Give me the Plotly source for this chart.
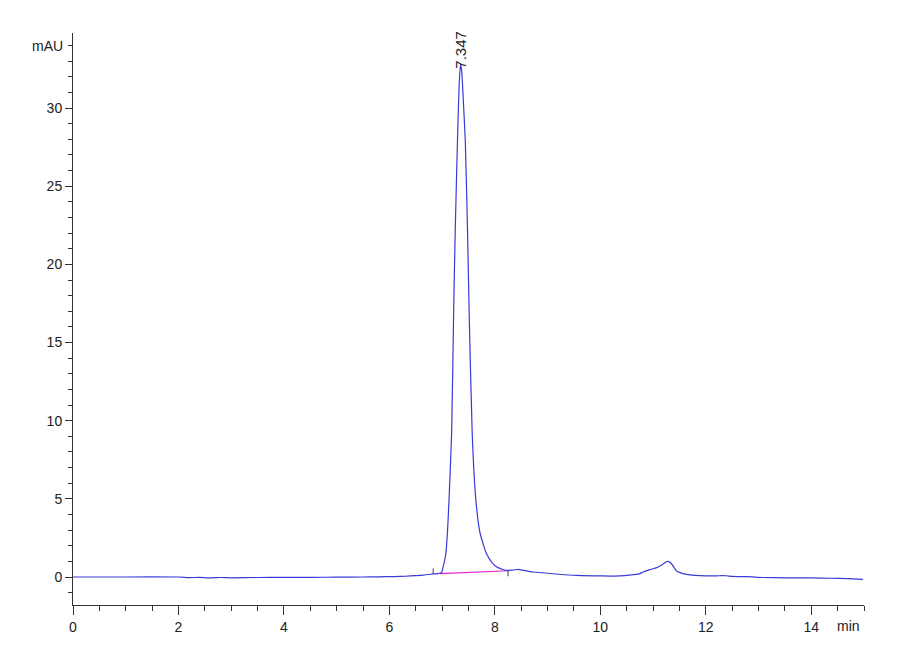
import plotly.graph_objects as go

# Chromatogram signal (min, mAU)
times = [0, 1, 2, 2.2, 2.4, 2.6, 2.8, 3.0, 3.5, 4, 4.5, 5, 5.5, 5.8, 6.1, 6.3, 6.5,
         6.64, 6.75, 6.83, 6.92, 6.99, 7.02, 7.07, 7.10, 7.13, 7.18, 7.22, 7.25, 7.29,
         7.32, 7.347, 7.37, 7.40, 7.44, 7.48, 7.51, 7.57, 7.64, 7.72, 7.84, 7.95, 8.03,
         8.15, 8.25, 8.35, 8.44, 8.55, 8.72, 9.10, 9.55, 10.0, 10.24, 10.5, 10.62, 10.75,
         10.81, 10.94, 11.07, 11.18, 11.25, 11.29, 11.35, 11.44, 11.5, 11.63, 11.89,
         12.2, 12.3, 12.39, 12.5, 12.8, 13.08, 13.5, 14.0, 14.35, 14.7, 14.98]
signal = [0, 0, 0, -0.04, -0.02, -0.06, -0.03, -0.05, -0.03, -0.02, -0.02, -0.01, 0, 0.01,
          0.03, 0.05, 0.09, 0.12, 0.16, 0.2, 0.22, 0.3, 0.65, 1.5, 2.8, 4.9, 9.2, 17.3, 22.4,
          27.8, 31.2, 32.8, 32.4, 30.6, 27.8, 22.4, 17.3, 9.2, 4.9, 2.8, 1.5, 0.9, 0.65,
          0.48, 0.42, 0.45, 0.49, 0.42, 0.32, 0.21, 0.1, 0.07, 0.06, 0.1, 0.15, 0.22,
          0.32, 0.47, 0.6, 0.8, 0.98, 1.0, 0.85, 0.4, 0.3, 0.17, 0.09,
          0.07, 0.09, 0.08, 0.04, 0.02, -0.03, -0.05, -0.06, -0.08, -0.1, -0.15]

# Integration baseline of the main peak
base_t = [6.96, 8.25]
base_v = [0.22, 0.40]
# Integration start / end markers
start_tick_t = [6.83, 6.83]
start_tick_v = [0.2, 0.55]
end_tick_t = [8.25, 8.25]
end_tick_v = [0.40, 0.05]

peak_rt = 7.347
peak_h = 32.8
peak_label = "7.347"

x_ticks = [0, 2, 4, 6, 8, 10, 12, 14]
y_ticks = [0, 5, 10, 15, 20, 25, 30]

fig = go.Figure()
fig.add_trace(go.Scatter(x=base_t, y=base_v, mode="lines",
                         line=dict(color="#e020d0", width=1.2), hoverinfo="skip"))
fig.add_trace(go.Scatter(x=times, y=signal, mode="lines",
                         line=dict(color="#3a3ad8", width=1.2, shape="spline",
                                   smoothing=0.5)))
fig.add_trace(go.Scatter(x=start_tick_t, y=start_tick_v, mode="lines",
                         line=dict(color="#444444", width=1)))
fig.add_trace(go.Scatter(x=end_tick_t, y=end_tick_v, mode="lines",
                         line=dict(color="#444444", width=1)))

fam = "Liberation Sans Narrow, Arial Narrow, Liberation Sans, sans-serif"
font = dict(family=fam, size=14, color="#222222")

fig.update_layout(
    width=900, height=660,
    margin=dict(l=65, r=44, t=25, b=63),
    plot_bgcolor="white", paper_bgcolor="white",
    showlegend=False,
    font=font,
    xaxis=dict(range=[0, 15], tickvals=x_ticks, ticks="outside", ticklen=9,
               tickcolor="#333333", showline=True, linecolor="#333333", linewidth=1,
               showgrid=False, zeroline=False, automargin=False,
               minor=dict(dtick=0.5, tick0=0, ticks="outside", ticklen=5,
                          tickcolor="#333333", showgrid=False)),
    yaxis=dict(range=[-1.79, 34.8], tickvals=y_ticks, ticks="outside", ticklen=7,
               tickcolor="#333333", showline=True, linecolor="#333333", linewidth=1,
               showgrid=False, zeroline=False, automargin=False,
               minor=dict(dtick=1, tick0=0, ticks="outside", ticklen=4,
                          tickcolor="#333333", showgrid=False)),
)

fig.add_annotation(x=0, xref="paper", y=34, yref="y", text="mAU", showarrow=False,
                   xanchor="right", yanchor="middle", xshift=-8, font=font)
fig.add_annotation(x=14.7, xref="x", y=0, yref="paper", text="min", showarrow=False,
                   xanchor="center", yanchor="top", yshift=-11, font=font)
fig.add_annotation(x=peak_rt, y=peak_h, text=peak_label, showarrow=False, textangle=-90,
                   xanchor="center", yanchor="bottom", yshift=-6,
                   font=dict(family=fam, size=15, color="#222222"))

fig.write_html("out.html")
